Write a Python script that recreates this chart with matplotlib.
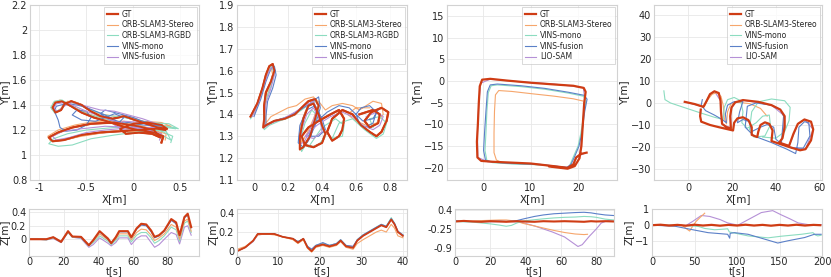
import numpy as np
import matplotlib
matplotlib.use('Agg')
import matplotlib.pyplot as plt

# colores
c_gt = '#cf3c14'
c_orb = '#f6a66c'
c_rgbd = '#8cdcc0'
c_blue = '#5b80c8'
c_purple = '#b590d6'

# ---------------- secuencia 1 (XY) ----------------
gt1 = np.array([(0.30,1.10),(0.32,1.15),(0.22,1.18),(0.05,1.20),(-0.12,1.23),(-0.28,1.27),(-0.42,1.30),(-0.55,1.34),
                (-0.66,1.39),(-0.76,1.43),(-0.83,1.42),(-0.86,1.38),(-0.83,1.34),(-0.77,1.36),(-0.73,1.41),(-0.66,1.43),
                (-0.55,1.40),(-0.45,1.35),(-0.35,1.31),(-0.22,1.29),(-0.10,1.31),(0.02,1.28),(0.14,1.25),(0.26,1.22),
                (0.36,1.21),(0.30,1.24),(0.15,1.26),(0.0,1.25),(-0.14,1.21),(-0.08,1.17),(0.06,1.18),(0.20,1.17),
                (0.29,1.14),(0.22,1.20),(0.05,1.23),(-0.2,1.26),(-0.45,1.25),(-0.65,1.22),(-0.80,1.18),(-0.90,1.14),
                (-0.86,1.11),(-0.74,1.12),(-0.55,1.16),(-0.35,1.18),(-0.15,1.19),(0.05,1.20),(0.25,1.21),(0.34,1.20)])
orb1 = np.array([(0.34,1.12),(0.35,1.17),(0.2,1.20),(0.02,1.22),(-0.15,1.25),(-0.32,1.29),(-0.48,1.33),(-0.6,1.37),
                 (-0.7,1.41),(-0.78,1.44),(-0.85,1.42),(-0.87,1.37),(-0.82,1.34),(-0.76,1.38),(-0.7,1.43),(-0.6,1.42),
                 (-0.48,1.37),(-0.36,1.33),(-0.2,1.31),(-0.05,1.31),(0.1,1.27),(0.25,1.24),(0.4,1.23),(0.3,1.26),
                 (0.1,1.27),(-0.1,1.24),(-0.05,1.19),(0.12,1.19),(0.3,1.17),(0.15,1.22),(-0.1,1.27),(-0.4,1.27),
                 (-0.62,1.24),(-0.8,1.2),(-0.91,1.15),(-0.88,1.11),(-0.75,1.12),(-0.55,1.15),(-0.3,1.18),(0.0,1.21),
                 (0.3,1.23),(0.42,1.22)])
rgbd1 = np.array([(0.4,1.1),(0.42,1.15),(0.3,1.19),(0.1,1.22),(-0.1,1.25),(-0.3,1.29),(-0.5,1.33),(-0.65,1.39),
                  (-0.76,1.44),(-0.84,1.43),(-0.88,1.38),(-0.84,1.34),(-0.77,1.37),(-0.7,1.42),(-0.58,1.41),(-0.45,1.36),
                  (-0.3,1.32),(-0.1,1.3),(0.1,1.27),(0.3,1.24),(0.48,1.21),(0.38,1.25),(0.15,1.26),(-0.05,1.22),
                  (0.1,1.19),(0.3,1.16),(0.4,1.12),(0.35,1.19),(0.1,1.22),(-0.2,1.22),(-0.5,1.2),(-0.7,1.17),
                  (-0.85,1.13),(-0.9,1.09),(-0.8,1.07),(-0.65,1.08),(-0.45,1.13),(-0.2,1.16),(0.1,1.19),(0.35,1.22),
                  (0.45,1.21)])
mono1 = np.array([(0.2,1.2),(0.05,1.22),(-0.1,1.25),(-0.2,1.28),(-0.3,1.32),(-0.4,1.35),(-0.5,1.38),(-0.6,1.4),
                  (-0.72,1.41),(-0.82,1.39),(-0.84,1.35),(-0.8,1.28),(-0.78,1.22),(-0.72,1.19),(-0.6,1.2),(-0.5,1.24),
                  (-0.45,1.3),(-0.5,1.35),(-0.6,1.36),(-0.65,1.32),(-0.55,1.28),(-0.4,1.27),(-0.3,1.3),(-0.2,1.33),
                  (-0.1,1.3),(-0.15,1.26),(-0.25,1.28),(-0.35,1.33),(-0.3,1.36),(-0.15,1.33),(0.0,1.3),(0.1,1.27),
                  (0.2,1.25),(0.3,1.23),(0.1,1.24),(-0.05,1.26),(-0.2,1.25),(-0.3,1.27)])
fus1 = np.array([(0.28,1.12),(0.3,1.17),(0.15,1.2),(0.0,1.23),(-0.2,1.27),(-0.35,1.31),(-0.5,1.35),(-0.62,1.39),
                 (-0.72,1.42),(-0.82,1.41),(-0.85,1.37),(-0.8,1.35),(-0.74,1.39),(-0.65,1.42),(-0.5,1.39),(-0.35,1.36),
                 (-0.2,1.35),(-0.05,1.32),(0.1,1.29),(0.25,1.25),(0.1,1.26),(-0.1,1.27),(-0.2,1.24),(-0.1,1.2),
                 (0.1,1.2),(0.25,1.18),(0.0,1.22),(-0.3,1.23),(-0.55,1.21),(-0.75,1.19),(-0.86,1.15),(-0.82,1.12),
                 (-0.68,1.14),(-0.5,1.18),(-0.3,1.2),(0.0,1.22),(0.25,1.22)])

# secuencia 1 (Z)
t1 = [0,5,10,14,18.5,22.5,25,30,34.5,37,40.7,45.5,47.4,50,52,57,59,62,64.7,67.6,70.4,72.4,75,78,82,84.8,86.8,89.6,91.5,93.5]
z1_gt = [0,0,0,0.03,-0.04,0.12,0.04,0.035,-0.09,-0.015,0.12,0.01,-0.06,0.03,0.12,0.12,0.03,0.16,0.23,0.22,0.13,0.035,0.06,0.13,0.30,0.25,0.06,0.33,0.38,0.18]
z1_blue = [0,0,0,0.03,-0.04,0.115,0.04,0.03,-0.09,-0.02,0.11,0.0,-0.06,0.02,0.11,0.11,0.02,0.15,0.21,0.2,0.11,0.02,0.05,0.12,0.28,0.23,0.05,0.32,0.36,0.17]
z1_orb = [0.01,0.01,0.0,0.03,-0.03,0.11,0.04,0.03,-0.08,-0.03,0.08,-0.01,-0.05,0.0,0.08,0.08,-0.01,0.1,0.15,0.14,0.06,-0.02,0.02,0.08,0.22,0.18,0.0,0.27,0.3,0.12]
z1_rgbd = [0,0,-0.01,0.02,-0.04,0.1,0.03,0.02,-0.1,-0.05,0.05,-0.03,-0.08,-0.02,0.05,0.05,-0.04,0.06,0.1,0.1,0.02,-0.06,-0.02,0.05,0.18,0.14,-0.03,0.24,0.27,0.1]
z1_purple = [0,0,-0.01,0.01,-0.05,0.1,0.03,0.01,-0.12,-0.08,0.02,-0.06,-0.1,-0.05,0.02,0.02,-0.08,0.01,0.05,0.05,-0.05,-0.12,-0.08,0.0,0.1,0.07,-0.07,0.18,0.2,0.06]

# ---------------- secuencia 2 (XY) ----------------
gt2 = np.array([(-0.02,1.39),(0.02,1.45),(0.05,1.52),(0.07,1.58),(0.09,1.62),(0.11,1.63),(0.12,1.60),(0.10,1.55),
                (0.07,1.50),(0.06,1.44),(0.06,1.38),(0.055,1.34),(0.07,1.35),(0.12,1.37),(0.18,1.38),(0.24,1.40),
                (0.28,1.43),(0.32,1.46),(0.36,1.47),(0.38,1.44),(0.36,1.38),(0.33,1.30),(0.29,1.25),(0.27,1.24),
                (0.27,1.30),(0.29,1.38),(0.32,1.44),(0.35,1.45),(0.38,1.40),(0.40,1.35),(0.42,1.31),(0.40,1.27),
                (0.35,1.25),(0.30,1.26),(0.28,1.30),(0.32,1.34),(0.38,1.37),(0.45,1.40),(0.50,1.42),(0.53,1.38),
                (0.52,1.33),(0.50,1.30),(0.46,1.28),(0.43,1.32),(0.46,1.38),(0.52,1.42),(0.58,1.40),(0.63,1.35),
                (0.68,1.32),(0.72,1.30),(0.75,1.32),(0.78,1.37),(0.79,1.41),(0.75,1.43),(0.69,1.41),(0.65,1.37),
                (0.68,1.34),(0.73,1.36),(0.74,1.40),(0.70,1.42),(0.62,1.40)])
orb2 = np.array([(0.0,1.40),(0.03,1.46),(0.06,1.53),(0.08,1.59),(0.1,1.62),(0.11,1.58),(0.09,1.52),(0.07,1.46),
                 (0.07,1.40),(0.07,1.36),(0.1,1.39),(0.15,1.41),(0.2,1.43),(0.25,1.44),(0.3,1.47),(0.35,1.48),
                 (0.38,1.45),(0.35,1.38),(0.31,1.31),(0.28,1.27),(0.27,1.34),(0.3,1.41),(0.34,1.46),(0.38,1.46),
                 (0.42,1.42),(0.46,1.44),(0.52,1.45),(0.58,1.44),(0.62,1.42),(0.66,1.44),(0.7,1.46),(0.75,1.45),
                 (0.76,1.4),(0.72,1.36),(0.66,1.35),(0.6,1.37),(0.55,1.4),(0.6,1.43),(0.68,1.43)])
rgbd2 = np.array([(-0.02,1.38),(0.02,1.44),(0.05,1.51),(0.08,1.58),(0.1,1.62),(0.12,1.59),(0.1,1.53),(0.07,1.47),
                  (0.06,1.4),(0.06,1.33),(0.09,1.35),(0.15,1.37),(0.22,1.39),(0.28,1.42),(0.33,1.45),(0.37,1.46),
                  (0.38,1.42),(0.35,1.34),(0.31,1.27),(0.28,1.23),(0.27,1.28),(0.3,1.36),(0.34,1.42),(0.39,1.38),
                  (0.42,1.3),(0.38,1.26),(0.32,1.25),(0.4,1.34),(0.48,1.38),(0.53,1.35),(0.52,1.3),(0.46,1.29),
                  (0.5,1.36),(0.58,1.38),(0.65,1.33),(0.72,1.29),(0.76,1.31),(0.78,1.36),(0.74,1.39),(0.68,1.38),
                  (0.7,1.34)])
mono2 = np.array([(0.0,1.39),(0.04,1.47),(0.07,1.55),(0.1,1.61),(0.12,1.62),(0.13,1.58),(0.11,1.52),(0.08,1.46),
                  (0.07,1.39),(0.07,1.35),(0.12,1.37),(0.2,1.39),(0.27,1.42),(0.33,1.45),(0.38,1.48),(0.39,1.43),
                  (0.36,1.35),(0.32,1.28),(0.29,1.25),(0.26,1.27),(0.27,1.35),(0.31,1.42),(0.36,1.44),(0.4,1.38),
                  (0.42,1.33),(0.38,1.3),(0.32,1.3),(0.36,1.36),(0.43,1.41),(0.5,1.44),(0.56,1.43),(0.6,1.4),
                  (0.62,1.36),(0.65,1.34),(0.7,1.36),(0.72,1.41),(0.68,1.44),(0.63,1.43),(0.6,1.4),(0.64,1.37),
                  (0.7,1.38),(0.73,1.42)])
fus2 = np.array([(-0.01,1.39),(0.03,1.46),(0.06,1.54),(0.09,1.6),(0.11,1.62),(0.12,1.58),(0.1,1.52),(0.07,1.45),
                 (0.06,1.38),(0.06,1.34),(0.1,1.36),(0.17,1.38),(0.24,1.41),(0.3,1.44),(0.35,1.46),(0.37,1.42),
                 (0.34,1.35),(0.3,1.28),(0.27,1.26),(0.28,1.33),(0.31,1.4),(0.35,1.43),(0.39,1.37),(0.4,1.32),
                 (0.35,1.29),(0.3,1.3),(0.37,1.35),(0.45,1.39),(0.52,1.41),(0.58,1.39),(0.64,1.35),(0.7,1.33),
                 (0.74,1.35),(0.76,1.39),(0.72,1.41),(0.66,1.39)])

# secuencia 2 (Z)
t2 = [0,2,3.9,5,7,9,11,13.5,14.7,16,17,18,19,20.7,22.3,24,25,26.3,28,29,30.4,32,33.6,34.8,36,37.2,38,38.8,40]
z2_gt = [0,0.04,0.11,0.18,0.18,0.18,0.15,0.13,0.09,0.13,0.04,0.0,0.05,0.07,0.05,0.07,0.11,0.05,0.035,0.11,0.16,0.2,0.24,0.27,0.25,0.33,0.28,0.2,0.16]
z2_orb = [0.02,0.05,0.11,0.17,0.18,0.17,0.15,0.12,0.08,0.12,0.03,-0.01,0.04,0.06,0.04,0.06,0.1,0.04,0.02,0.08,0.12,0.16,0.2,0.22,0.2,0.28,0.24,0.16,0.14]
z2_rgbd = [0,0.04,0.11,0.18,0.18,0.18,0.15,0.13,0.1,0.13,0.05,0.01,0.06,0.08,0.06,0.08,0.12,0.06,0.04,0.12,0.17,0.21,0.25,0.28,0.26,0.35,0.29,0.2,0.17]
z2_blue = [0,0.04,0.11,0.18,0.18,0.18,0.15,0.13,0.1,0.13,0.05,0.02,0.06,0.09,0.06,0.08,0.12,0.06,0.05,0.12,0.17,0.21,0.25,0.28,0.26,0.34,0.29,0.21,0.17]
z2_purple = [0,0.04,0.1,0.17,0.18,0.18,0.15,0.13,0.1,0.13,0.05,0.02,0.06,0.08,0.06,0.08,0.11,0.06,0.05,0.11,0.16,0.2,0.24,0.27,0.25,0.33,0.28,0.2,0.17]

# ---------------- secuencia 3 (XY) ----------------
gt3 = np.array([(21.8,-16.5),(20.6,-16.8),(19.6,-17.6),(19.0,-19.2),(17.8,-20.0),(14,-19.5),(10,-19.0),(6,-18.8),
                (2,-18.6),(-0.4,-18.4),(-1.2,-17.6),(-1.3,-14),(-1.1,-10),(-0.9,-5),(-0.7,-1.2),(-0.2,0.3),(1.5,0.5),
                (5,0.1),(10,-0.4),(15,-0.8),(19,-1.1),(21.2,-1.6),(21.6,-2.5),(21.3,-5),(21.0,-10),(20.7,-15),
                (20.3,-17.8),(19.3,-19.6),(17.8,-20.2),(14,-19.7)])
orb3 = np.array([(17.5,-20),(12,-19.3),(7,-19),(4,-18.8),(2.8,-18.2),(2.3,-16.5),(2.3,-12),(2.4,-7),(2.6,-3.2),
                 (3.3,-2.2),(6,-2.4),(10,-2.9),(15,-3.5),(19,-4.1),(21,-4.6)])
mono3 = np.array([(17.8,-20.0),(12,-19.3),(6,-19.1),(2,-18.8),(0.8,-18.3),(0.4,-16),(0.6,-12),(0.8,-7),(1.1,-2.7),
                  (1.7,-1.1),(3,-0.9),(8,-1.3),(13,-1.9),(18,-2.8),(21.1,-3.5),(21.7,-4.4),(21.3,-7),(20.6,-12),
                  (20.0,-15),(19.0,-17.5),(18.3,-19.3)])
fus3 = np.array([(17.5,-19.9),(12,-19.2),(6,-19.0),(2,-18.7),(0.5,-18.2),(0.1,-16),(0.3,-12),(0.6,-7),(0.9,-2.5),
                 (1.5,-0.9),(3,-0.7),(8,-1.1),(13,-1.7),(18,-2.6),(21.3,-3.3),(21.9,-4.2),(21.4,-7),(20.8,-12),
                 (20.2,-15),(19.2,-17.6),(18.5,-19.2),(17.5,-20)])
lio3 = np.array([(21.5,-16.6),(19.8,-17.4),(19.1,-19.1),(17.8,-19.9),(12,-19.3),(6,-18.9),(1,-18.6),(-1.1,-17.6),
                 (-1.2,-12),(-0.9,-5),(-0.5,-0.5),(1.5,0.4),(8,-0.2),(15,-0.7),(21.1,-1.5),(21.4,-4),(21.0,-10),
                 (20.6,-15),(20.2,-17.6)])

# secuencia 3 (Z)
t3 = [0,5,10,15,20,25,29,32,35,39,45,50,56,62,68,73,77,80,85,90]
z3_gt = [0,0.02,0.0,-0.01,0.01,0.0,-0.01,0.0,0.01,0.0,-0.01,0.01,0.0,0.01,0.0,-0.01,0.01,0.0,0.01,0.0]
z3_fus = [0.03,0.0,0.0,0.0,0.0,0.01,0.0,0.01,0.03,0.09,0.17,0.22,0.26,0.28,0.3,0.31,0.29,0.26,0.22,0.2]
z3_mono = [0.0,-0.01,-0.02,-0.05,-0.08,-0.12,-0.16,-0.13,-0.05,0.02,0.06,0.09,0.12,0.14,0.15,0.17,0.16,0.14,0.08,0.05]
t3_orb = [0,5,10,15,20,25,29,32,35,39,45,50,56,62,68,73,75]
z3_orb = [0.0,0.01,0.02,0.03,0.04,0.05,0.05,0.03,0.0,-0.07,-0.15,-0.22,-0.3,-0.37,-0.42,-0.44,-0.43]
t3_lio = [0,10,20,30,37,45,55,62,69.6,72,76,80,82.8,86.6,90]
z3_lio = [0,0.0,-0.01,0.0,-0.02,-0.15,-0.35,-0.52,-0.84,-0.78,-0.5,-0.25,-0.05,0.03,0.02]

# ---------------- secuencia 4 (XY) ----------------
gt4 = np.array([(-1.5,0.5),(3,-0.5),(7,-1.8),(8.5,1),(10,4),(12,5.3),(14,4.5),(14.8,1),(15,-4),(15.5,-9.5),
                (17.5,-11),(19.5,-11.5),(19.2,-6),(19.8,-2),(21.5,0.3),(25,1.3),(32,0.5),(38,-1),(42,-3),(44,-6),
                (44,-11),(43,-16),(41.5,-18),(46,-19.5),(48,-14),(50,-9.5),(53,-7.5),(56,-8.5),(57,-12),(56,-17),
                (53.5,-21),(51,-21.5),(46,-20),(41.5,-18.5),(38,-17.3),(38.5,-12.5),(37,-9.5),(35,-8.8),(33,-10),
                (32,-13),(31.5,-15.5),(29,-14.5),(29,-11),(27.5,-7.8),(25,-6.5),(22.5,-7),(21,-9),(20.5,-12.5),
                (14,-11),(10,-10),(6,-8.5),(5.5,-6),(5.8,-3)])
orb4 = np.array([(0,0.2),(4,-0.8),(7.5,-1.5),(9,1.5),(11,4),(13,4.6),(15,3),(16,-1),(16.5,-7),(17.5,-9.5),
                 (18,-4),(19.5,-0.5),(22,0.4),(28,-0.3),(33,-2.5),(36,-6)])
mono4 = np.array([(-11,5.5),(-10.5,1.5),(-8,0),(-2,-2),(5,-4.3),(12,-6.5),(16,-7.5),(16.5,-2),(18,1.5),(21,2.5),
                  (24,1),(25,-4),(24.5,-9),(27,-11.5),(31,-9),(34,-6),(37,-5.5),(37.5,-10),(35,-15),(30,-15.5),
                  (28,-12),(29,-4),(32,0.5),(38,1.8),(44,1),(46.5,-2),(46,-8),(44,-13),(40,-16),(34,-15.5)])
fus4 = np.array([(6.5,1.5),(6,-1),(8,-3.5),(12,-5.5),(15.5,-7.5),(17.5,-9),(17,-5),(18,-1),(21,0.6),(25,0.6),
                 (23.5,-4),(22.5,-9),(25,-7.5),(28,-8.5),(29,-13),(33,-11),(36,-9.8),(39,-11),(40,-16.5),(42.5,-18.5),
                 (43,-12),(43.5,-6),(42,-3),(38,-1),(31,0),(27,-1.5),(26,-11),(30,-15),(38,-18),(45,-21),(49,-23),
                 (50,-18),(50.5,-11),(53,-8.5),(55,-9),(55.5,-15),(52.5,-20.5),(47,-20.5)])
lio4 = np.array([(-1.5,0.5),(7,-1.8),(10,4),(12,5.3),(14.8,1),(15.5,-9.5),(19.5,-11.5),(19.5,-3),(21.5,0.3),
                 (25,1.3),(38,-1),(44,-6),(43,-16),(41.5,-18),(46,-19.5),(50,-9.5),(53,-7.5),(57,-12),(53.5,-21),(46,-20)])

# secuencia 4 (Z)
t4_gt = [0,10,20,30,40,50,60,70,80,90,100,110,120,130,140,150,160,170,180,190,198]
z4_gt = [0,0.03,-0.02,0.02,-0.03,0.03,-0.02,0.02,-0.03,0.02,-0.02,0.03,-0.02,0.02,-0.03,0.02,-0.02,0.03,-0.02,0.02,0.0]
t4_orb = [0,10,20,26.7,34.5,40,44.3,48,52,57,62]
z4_orb = [0,0.0,-0.02,-0.06,0.04,-0.2,-0.36,-0.05,0.24,0.5,0.74]
t4_lio = [0,20,40,48,58,68,80,89,101,113,128.6,142,152,162,172,183.5,199]
z4_lio = [0,0.0,-0.02,0.24,0.6,0.54,0.35,0.14,0.0,0.34,0.78,0.9,0.64,0.4,0.14,0.04,0.04]
t4_mono = [0,20,40,55,62,73.7,85,89,91,95,113,136.5,152,175.7,189.4,192,195,199]
z4_mono = [0,0,-0.02,-0.08,-0.2,-0.28,-0.24,-0.22,-0.42,-0.46,-0.66,-0.78,-0.68,-0.56,-0.46,-0.6,-0.66,-0.62]
t4_fus = [0,26.7,46,66,80,89,91.4,92,97,113,132.5,148,160,179.6,191,199]
z4_fus = [0,-0.06,-0.26,-0.46,-0.52,-0.56,-0.8,-0.5,-0.46,-0.56,-0.86,-1.1,-0.96,-0.76,-0.56,-0.56]

W, H = 831, 277
fig = plt.figure(figsize=(W / 100, H / 100), dpi=100)

def caja(l, r, t, b):
    return [l / W, (H - b) / H, (r - l) / W, (b - t) / H]

def estilo(ax, pad=2):
    for s in ax.spines.values():
        s.set_color('#d2d2d2')
        s.set_linewidth(0.8)
    ax.grid(True, color='#e8e8e8', linewidth=0.6)
    ax.set_axisbelow(True)
    ax.tick_params(length=0, labelsize=7, colors='#262626', pad=pad)

def leyenda(ax, handles, etiquetas):
    lg = ax.legend(handles, etiquetas, loc='upper right', fontsize=5.5, frameon=True, fancybox=False,
                   edgecolor='#c8c8c8', handlelength=1.5, handletextpad=0.5, labelspacing=0.22,
                   borderpad=0.35, borderaxespad=0.25)
    lg.get_frame().set_linewidth(0.6)
    for txt in lg.get_texts():
        txt.set_color('#262626')

lab_kw = dict(fontsize=7.5, color='#262626', labelpad=1)

def etiqueta_t(ax):
    ax.tick_params(axis='x', pad=0.5)
    ax.set_xlabel('t[s]', fontsize=7, color='#262626')
    ax.xaxis.set_label_coords(0.5, -0.21)

top_pos = [(30, 199), (237, 407), (447, 617), (654, 822)]
bot_pos = [(29, 199), (237, 407), (455, 614), (652, 822)]
bot_t, bot_b = 209, 256
nombres_a = ['GT', 'ORB-SLAM3-Stereo', 'ORB-SLAM3-RGBD', 'VINS-mono', 'VINS-fusion']
nombres_b = ['GT', 'ORB-SLAM3-Stereo', 'VINS-mono', 'VINS-fusion', 'LIO-SAM']

# ---- panel 1 ----
ax = fig.add_axes(caja(top_pos[0][0], top_pos[0][1], 5, 180))
estilo(ax)
l0, = ax.plot(gt1[:, 0], gt1[:, 1], color=c_gt, lw=1.6, zorder=1)
l1, = ax.plot(orb1[:, 0], orb1[:, 1], color=c_orb, lw=0.8)
l2, = ax.plot(rgbd1[:, 0], rgbd1[:, 1], color=c_rgbd, lw=0.8)
l3, = ax.plot(mono1[:, 0], mono1[:, 1], color=c_blue, lw=0.8)
l4, = ax.plot(fus1[:, 0], fus1[:, 1], color=c_purple, lw=0.8)
ax.plot(gt1[:, 0], gt1[:, 1], color=c_gt, lw=1.3, zorder=3)
ax.set_xlim(-1.1, 0.7)
ax.set_ylim(0.8, 2.2)
ax.set_xticks([-1, -0.5, 0, 0.5])
ax.set_xticklabels(['-1', '-0.5', '0', '0.5'])
ax.set_yticks(np.arange(0.8, 2.21, 0.2))
ax.set_yticklabels(['0.8', '1', '1.2', '1.4', '1.6', '1.8', '2', '2.2'])
ax.set_xlabel('X[m]', **lab_kw)
ax.set_ylabel('Y[m]', **lab_kw)
leyenda(ax, [l0, l1, l2, l3, l4], nombres_a)

ax = fig.add_axes(caja(bot_pos[0][0], bot_pos[0][1], bot_t, bot_b))
estilo(ax)
ax.plot(t1, z1_purple, color=c_purple, lw=0.8)
ax.plot(t1, z1_rgbd, color=c_rgbd, lw=0.8)
ax.plot(t1, z1_orb, color=c_orb, lw=0.8)
ax.plot(t1, z1_blue, color=c_blue, lw=0.8)
ax.plot(t1, z1_gt, color=c_gt, lw=1.5)
ax.set_xlim(0, 98)
ax.set_ylim(-0.25, 0.45)
ax.set_xticks([0, 20, 40, 60, 80])
ax.set_yticks([0, 0.2, 0.4])
ax.set_yticklabels(['0', '0.2', '0.4'])
etiqueta_t(ax)
ax.set_ylabel('Z[m]', **lab_kw)

# ---- panel 2 ----
ax = fig.add_axes(caja(top_pos[1][0], top_pos[1][1], 5, 180))
estilo(ax)
l0, = ax.plot(gt2[:, 0], gt2[:, 1], color=c_gt, lw=1.6, zorder=1)
l1, = ax.plot(orb2[:, 0], orb2[:, 1], color=c_orb, lw=0.8)
l2, = ax.plot(rgbd2[:, 0], rgbd2[:, 1], color=c_rgbd, lw=0.8)
l3, = ax.plot(mono2[:, 0], mono2[:, 1], color=c_blue, lw=0.8)
l4, = ax.plot(fus2[:, 0], fus2[:, 1], color=c_purple, lw=0.8)
ax.plot(gt2[:, 0], gt2[:, 1], color=c_gt, lw=1.3, zorder=3)
ax.set_xlim(-0.1, 0.9)
ax.set_ylim(1.1, 1.9)
ax.set_xticks([0, 0.2, 0.4, 0.6, 0.8])
ax.set_xticklabels(['0', '0.2', '0.4', '0.6', '0.8'])
ax.set_yticks(np.arange(1.1, 1.91, 0.1))
ax.set_yticklabels(['1.1', '1.2', '1.3', '1.4', '1.5', '1.6', '1.7', '1.8', '1.9'])
ax.set_xlabel('X[m]', **lab_kw)
ax.set_ylabel('Y[m]', **lab_kw)
leyenda(ax, [l0, l1, l2, l3, l4], nombres_a)

ax = fig.add_axes(caja(bot_pos[1][0], bot_pos[1][1], bot_t, bot_b))
estilo(ax)
ax.plot(t2, z2_purple, color=c_purple, lw=0.8)
ax.plot(t2, z2_rgbd, color=c_rgbd, lw=0.8)
ax.plot(t2, z2_blue, color=c_blue, lw=0.8)
ax.plot(t2, z2_orb, color=c_orb, lw=0.8)
ax.plot(t2, z2_gt, color=c_gt, lw=1.3)
ax.set_xlim(0, 41)
ax.set_ylim(-0.05, 0.44)
ax.set_xticks([0, 10, 20, 30, 40])
ax.set_yticks([0, 0.2, 0.4])
ax.set_yticklabels(['0', '0.2', '0.4'])
etiqueta_t(ax)
ax.set_ylabel('Z[m]', **lab_kw)

# ---- panel 3 ----
ax = fig.add_axes(caja(top_pos[2][0], top_pos[2][1], 5, 180))
estilo(ax)
l4, = ax.plot(lio3[:, 0], lio3[:, 1], color=c_purple, lw=0.8)
l1, = ax.plot(orb3[:, 0], orb3[:, 1], color=c_orb, lw=0.8)
l2, = ax.plot(mono3[:, 0], mono3[:, 1], color=c_rgbd, lw=0.8)
l3, = ax.plot(fus3[:, 0], fus3[:, 1], color=c_blue, lw=0.8)
l0, = ax.plot(gt3[:, 0], gt3[:, 1], color=c_gt, lw=1.6)
ax.set_xlim(-7.6, 28.2)
ax.set_ylim(-22.8, 17.5)
ax.set_xticks([0, 10, 20])
ax.set_yticks([-20, -15, -10, -5, 0, 5, 10, 15])
ax.set_xlabel('X[m]', **lab_kw)
ax.set_ylabel('Y[m]', **lab_kw)
leyenda(ax, [l0, l1, l2, l3, l4], nombres_b)

ax = fig.add_axes(caja(bot_pos[2][0], bot_pos[2][1], bot_t, bot_b))
estilo(ax)
ax.plot(t3_lio, z3_lio, color=c_purple, lw=0.8)
ax.plot(t3_orb, z3_orb, color=c_orb, lw=0.8)
ax.plot(t3, z3_mono, color=c_rgbd, lw=0.8)
ax.plot(t3, z3_fus, color=c_blue, lw=0.8)
ax.plot(t3, z3_gt, color=c_gt, lw=1.5)
ax.set_xlim(0, 90)
ax.set_ylim(-1.16, 0.42)
ax.set_xticks([0, 20, 40, 60, 80])
ax.set_yticks([-0.9, -0.25, 0.4])
ax.set_yticklabels(['-0.9', '-0.25', '0.4'])
etiqueta_t(ax)

# ---- panel 4 ----
ax = fig.add_axes(caja(top_pos[3][0], top_pos[3][1], 5, 180))
estilo(ax)
l4, = ax.plot(lio4[:, 0], lio4[:, 1], color=c_purple, lw=0.8)
l1, = ax.plot(orb4[:, 0], orb4[:, 1], color=c_orb, lw=0.8)
l2, = ax.plot(mono4[:, 0], mono4[:, 1], color=c_rgbd, lw=0.8)
l3, = ax.plot(fus4[:, 0], fus4[:, 1], color=c_blue, lw=0.8)
l0, = ax.plot(gt4[:, 0], gt4[:, 1], color=c_gt, lw=1.6)
ax.set_xlim(-15.5, 61)
ax.set_ylim(-35, 44.5)
ax.set_xticks([0, 20, 40, 60])
ax.set_yticks([-30, -20, -10, 0, 10, 20, 30, 40])
ax.set_xlabel('X[m]', **lab_kw)
ax.set_ylabel('Y[m]', **lab_kw)
leyenda(ax, [l0, l1, l2, l3, l4], nombres_b)

ax = fig.add_axes(caja(bot_pos[3][0], bot_pos[3][1], bot_t, bot_b))
estilo(ax)
ax.plot(t4_lio, z4_lio, color=c_purple, lw=0.8)
ax.plot(t4_orb, z4_orb, color=c_orb, lw=0.8)
ax.plot(t4_mono, z4_mono, color=c_rgbd, lw=0.8)
ax.plot(t4_fus, z4_fus, color=c_blue, lw=0.8)
ax.plot(t4_gt, z4_gt, color=c_gt, lw=1.6)
ax.set_xlim(0, 200)
ax.set_ylim(-1.9, 1.0)
ax.set_xticks([0, 50, 100, 150, 200])
ax.set_yticks([-1, 0, 1])
etiqueta_t(ax)
ax.set_ylabel('Z[m]', **lab_kw)

fig.savefig('out.png', dpi=100)
